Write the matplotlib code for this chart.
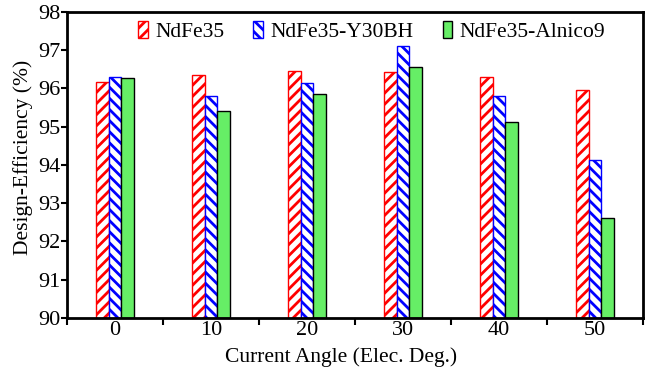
import numpy as np
import matplotlib
matplotlib.use('Agg')
import matplotlib.pyplot as plt

plt.rcParams['font.family'] = 'Liberation Serif'
plt.rcParams['hatch.linewidth'] = 2.0

angles = ['0', '10', '20', '30', '40', '50']
ndfe35 = [96.17, 96.35, 96.45, 96.42, 96.30, 95.97]
ndfe35_y30bh = [96.30, 95.80, 96.15, 97.10, 95.80, 94.12]
ndfe35_alnico9 = [96.27, 95.41, 95.85, 96.55, 95.12, 92.60]

fig = plt.figure(figsize=(6.5, 3.71), dpi=100)
ax = fig.add_axes([0.103, 0.143, 0.886, 0.825])

x = np.arange(len(angles))
w = 0.13
ax.bar(x - w, np.array(ndfe35) - 90, w, bottom=90, color='white', edgecolor='red',
       hatch='///', linewidth=1.0, label='NdFe35')
ax.bar(x, np.array(ndfe35_y30bh) - 90, w, bottom=90, color='white', edgecolor='blue',
       hatch='\\\\\\', linewidth=1.0, label='NdFe35-Y30BH')
ax.bar(x + w, np.array(ndfe35_alnico9) - 90, w, bottom=90, color='#66ee66', edgecolor='black',
       linewidth=1.0, label='NdFe35-Alnico9')

ax.set_ylim(90, 98)
ax.set_xlim(-0.5, len(angles) - 0.5)
ax.set_yticks(range(90, 99))
ax.tick_params(axis='y', labelsize=16, direction='out', length=4, width=1.5, pad=1)
ax.set_xticks(x)
ax.set_xticklabels(angles)
ax.tick_params(axis='x', labelsize=16, length=0, pad=2)
ax.set_xticks(np.arange(-0.5, len(angles), 1), minor=True)
ax.tick_params(axis='x', which='minor', direction='out', length=5, width=1.5)
for s in ax.spines.values():
    s.set_linewidth(2)

ax.set_xlabel('Current Angle (Elec. Deg.)', fontsize=15.5)
ax.xaxis.set_label_coords(0.476, -0.095)
ax.set_ylabel('Design-Efficiency (%)', fontsize=15.5)
ax.yaxis.set_label_coords(-0.059, 0.523)

ax.legend(loc='upper center', ncol=3, frameon=False, fontsize=15.5, handlelength=0.45,
          handleheight=0.9, handletextpad=0.35, columnspacing=1.35,
          bbox_to_anchor=(0.529, 1.035))

fig.savefig('out.png', dpi=100)
